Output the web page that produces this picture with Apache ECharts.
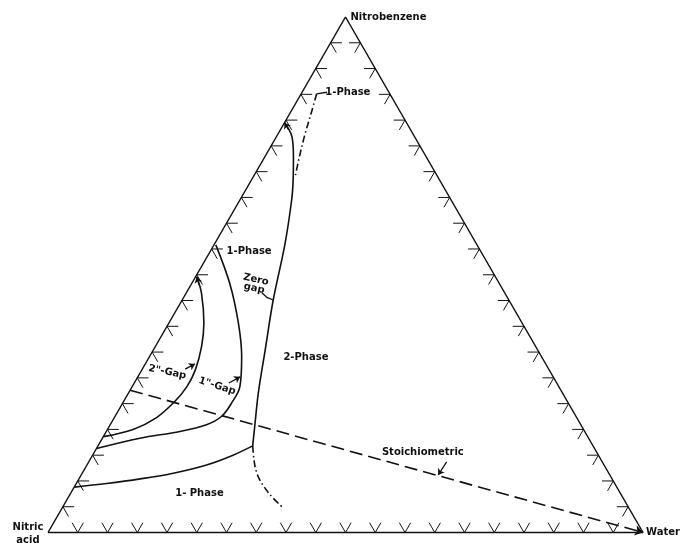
<!DOCTYPE html>
<html>
<head>
<meta charset="utf-8">
<script src="https://cdn.jsdelivr.net/npm/echarts@6/dist/echarts.min.js"></script>
<style>html,body{margin:0;background:#fff}#chart{width:680px;height:543px}</style>
</head>
<body>
<div id="chart"></div>
<script>
// compositions as [nitrobenzene %, water %], nitric acid is the rest
const zeroGapUpper = [[79.5, 0], [76.8, 2.6], [72.9, 4.8], [68.4, 7.0], [64.5, 8.7], [55.8, 11.9], [45.1, 15.3], [35.4, 18.8], [27.1, 21.8], [21.2, 24.2], [16.8, 26.0]];
const zeroGapLower = [[16.8, 26.0], [15.0, 23.6], [13.1, 20.1], [11.5, 15.3], [10.4, 10.3], [9.5, 5.1], [8.8, 0]];
const onePhaseTop = [[85.1, 2.6], [82.0, 3.4], [77.1, 4.6], [72.6, 5.9], [68.8, 7.1]];
const onePhaseBottom = [[16.8, 26.0], [12.8, 28.4], [10.2, 30.5], [7.3, 33.7], [5.0, 36.8]];
const oneInchGap = [[55.8, 0.3], [48.3, 6.4], [40.6, 11.7], [34.1, 15.5], [28.3, 18.1], [25.1, 18.3], [22.5, 17.9], [20.9, 16.2], [19.6, 12.4], [18.3, 6.3], [16.3, 0]];
const twoInchGap = [[49.6, 0.2], [46.4, 2.6], [40.6, 5.9], [36.0, 7.8], [31.5, 9.0], [28.3, 9.2], [25.4, 8.6], [22.3, 7.1], [20.0, 4.3], [18.6, 0]];
const stoichiometric = [[27.6, 0], [0, 100]];
const tickSteps = [5, 10, 15, 20, 25, 30, 35, 40, 45, 50, 55, 60, 65, 70, 75, 80, 85, 90, 95];

// pointers from the labels to the curves
const arrowLeaders = [
  [[31.7, 7.2], [32.7, 8.35]],
  [[29.0, 15.9], [30.2, 17.2]],
  [[13.7, 60.15], [11.15, 60.0]],
  [[48.0, 1.4], [49.6, 0.2]],
  [[78.2, 1.3], [79.5, 0]]
];
const plainLeaders = [
  [[85.4, 4.2], [85.1, 2.6]],
  [[46.5, 12.7], [45.6, 14.0], [45.1, 15.3]]
];

const labelTexts = ['Nitrobenzene', 'Nitric\nacid', 'Water', '1-Phase', '1-Phase', 'Zero\ngap', '2-Phase', '2"-Gap', '1"-Gap', 'Stoichiometric', '1- Phase'];
const labelAt = [[100, 0], [0, 0], [0, 100], [85.4, 7.7], [54.6, 6.5], [48.2, 10.7], [33.9, 26.4], [31.1, 4.5], [28.4, 14.2], [15.6, 55.2], [7.5, 21.7]];

const S3 = Math.sqrt(3) / 2;
function toXY(p) {
  const n = p[0] / 100, w = p[1] / 100;
  return [w + n / 2, n * S3];
}
const ink = '#111111';

function curve(data, dash) {
  return {
    type: 'line', data: data.map(toXY), smooth: 0.35, showSymbol: false, symbol: 'none', clip: false,
    lineStyle: { color: ink, width: 1.6, type: dash || 'solid' }, z: 3
  };
}

// tick marks drawn along the grid directions at every 5 %
const d = 1.9;
const tickSegs = [];
tickSteps.forEach((f) => {
  tickSegs.push({ coords: [[d, f - d], [0, f], [d, f]].map(toXY) });
  tickSegs.push({ coords: [[f, d], [f, 0], [f - d, d]].map(toXY) });
  tickSegs.push({ coords: [[f, 100 - f - d], [f, 100 - f], [f - d, 100 - f]].map(toXY) });
});

const tilt = { 5: -12, 7: -12, 8: -18 };
const labelData = labelTexts.map((t, i) => {
  const lab = {
    show: true, formatter: t, rotate: tilt[i] || 0, position: 'inside', align: 'center', verticalAlign: 'middle', lineHeight: 9,
    color: ink, textBorderWidth: 0, opacity: 1
  };
  if (i === 0) Object.assign(lab, { position: 'right', distance: 5, align: 'left' });
  if (i === 1) Object.assign(lab, { position: [-20, -12], verticalAlign: 'top', lineHeight: 13 });
  if (i === 2) Object.assign(lab, { position: 'right', distance: 3, align: 'left' });
  return { value: toXY(labelAt[i]), label: lab };
});

const myChart = echarts.init(document.getElementById('chart'));
const option = {
  animation: false,
  backgroundColor: '#fff',
  grid: { left: 48, right: 37, top: 17, bottom: 10.5 },
  xAxis: { type: 'value', min: 0, max: 1, show: false },
  yAxis: { type: 'value', min: 0, max: S3, show: false },
  series: [
    {
      type: 'line', data: [[0, 0], [100, 0], [0, 100], [0, 0]].map(toXY), showSymbol: false, symbol: 'none', clip: false,
      lineStyle: { color: ink, width: 1.5 }
    },
    {
      type: 'lines', coordinateSystem: 'cartesian2d', polyline: true, data: tickSegs, clip: false,
      lineStyle: { color: ink, width: 1, opacity: 1 }
    },
    curve(zeroGapUpper),
    curve(zeroGapLower),
    curve(oneInchGap),
    curve(twoInchGap),
    curve(onePhaseTop, [7, 3, 1.5, 3]),
    curve(onePhaseBottom, [7, 3, 1.5, 3]),
    {
      type: 'lines', coordinateSystem: 'cartesian2d', clip: false,
      data: [{ coords: stoichiometric.map(toXY) }],
      symbol: ['none', 'arrow'], symbolSize: 8,
      lineStyle: { color: ink, width: 1.6, type: [13, 6], opacity: 1 }
    },
    {
      type: 'lines', coordinateSystem: 'cartesian2d', clip: false,
      data: arrowLeaders.map((s) => ({ coords: s.map(toXY) })),
      symbol: ['none', 'arrow'], symbolSize: 6,
      lineStyle: { color: ink, width: 1.3, opacity: 1 }
    },
    {
      type: 'lines', coordinateSystem: 'cartesian2d', polyline: true, clip: false,
      data: plainLeaders.map((s) => ({ coords: s.map(toXY) })),
      lineStyle: { color: ink, width: 1.3, opacity: 1 }
    },
    {
      type: 'scatter', data: labelData, symbolSize: 0, clip: false, z: 5,
      itemStyle: { opacity: 1, color: ink },
      label: { fontFamily: 'DejaVu Sans', fontWeight: 'bold', fontSize: 10, color: ink }
    }
  ]
};
myChart.setOption(option, true);
</script>
</body>
</html>
